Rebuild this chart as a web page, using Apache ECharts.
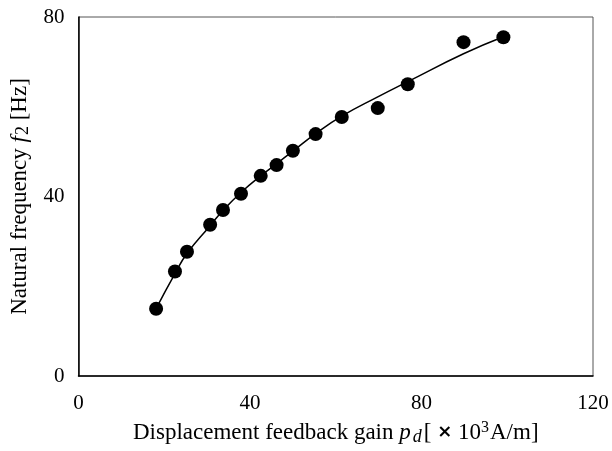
<!DOCTYPE html>
<html>
<head>
    <meta charset="utf-8">
    <script src="https://cdn.jsdelivr.net/npm/echarts@6/dist/echarts.min.js"></script>
    <style>
        html, body { margin: 0; padding: 0; background: #fff; }
        #chart { width: 612px; height: 451px; }
    </style>
</head>
<body>
<div id="chart"></div>
<script>
// measured points: gain p_d (x10^3 A/m), natural frequency f2 (Hz)
var gainVals = [18.1, 22.5, 25.3, 30.7, 33.7, 37.9, 42.5, 46.2, 50.0, 55.3, 61.4, 69.8, 76.8, 89.8, 99.1];
var freqVals = [15.0, 23.3, 27.7, 33.7, 37.0, 40.6, 44.6, 47.0, 50.2, 53.9, 57.7, 59.7, 65.0, 74.4, 75.5];
// trend line
var trendX = [18.1, 22.5, 25.3, 30.7, 33.7, 37.9, 42.5, 46.2, 50.0, 55.3, 61.4, 69.8, 76.8, 89.8, 99.1];
var trendY = [15.0, 22.8, 27.3, 33.5, 36.9, 40.9, 44.6, 47.3, 50.1, 54.0, 57.9, 62.2, 65.6, 71.8, 75.6];
// axis ticks
var xTicks = [0, 40, 80, 120];
var yTicks = [0, 40, 80];

var pts = [];
for (var i = 0; i < gainVals.length; i++) {
    pts.push([gainVals[i], freqVals[i]]);
}
var trend = [];
for (var j = 0; j < trendX.length; j++) {
    trend.push([trendX[j], trendY[j]]);
}

var serif = '"Liberation Serif", "DejaVu Serif", serif';
var chart = echarts.init(document.getElementById('chart'));
var option = {
    animation: false,
    grid: {
        left: 77,
        top: 17,
        right: 19,
        bottom: 74,
        show: true,
        borderColor: '#555',
        borderWidth: 1
    },
    xAxis: {
        type: 'value',
        min: xTicks[0],
        max: xTicks[xTicks.length - 1],
        interval: 40,
        name: '{a|Displacement feedback gain }{i|p}{s|d}{a|[ }{b|×}{a| 10}{p|3}{a|A/m]}',
        nameLocation: 'middle',
        nameGap: 43,
        nameTextStyle: {
            fontFamily: serif,
            color: '#000',
            rich: {
                a: { fontFamily: serif, fontSize: 23, color: '#000' },
                i: { fontFamily: serif, fontSize: 23, fontStyle: 'italic', color: '#000' },
                s: { fontFamily: serif, fontSize: 18, fontStyle: 'italic', color: '#000', padding: [9, 2, 0, 2] },
                b: { fontFamily: 'DejaVu Sans', fontSize: 18, fontWeight: 'bold', color: '#000' },
                p: { fontFamily: serif, fontSize: 16, color: '#000', padding: [0, 1, 9, 0] }
            }
        },
        axisLine: { lineStyle: { color: '#000', width: 1.5 } },
        axisTick: { show: false },
        splitLine: { show: false },
        axisLabel: {
            margin: 17,
            fontFamily: serif,
            fontSize: 21,
            color: '#000'
        }
    },
    yAxis: {
        type: 'value',
        min: yTicks[0],
        max: yTicks[yTicks.length - 1],
        interval: 40,
        name: '{a|Natural frequency }{i|f}{s|2}{a| [Hz]}',
        nameLocation: 'middle',
        nameGap: 46,
        nameTextStyle: {
            fontFamily: serif,
            color: '#000',
            rich: {
                a: { fontFamily: serif, fontSize: 23, color: '#000' },
                i: { fontFamily: serif, fontSize: 23, fontStyle: 'italic', color: '#000' },
                s: { fontFamily: serif, fontSize: 18, color: '#000', padding: [8, 0, 0, 1] }
            }
        },
        axisLine: { show: true, lineStyle: { color: '#000', width: 1.5 } },
        axisTick: { show: false },
        splitLine: { show: false },
        axisLabel: {
            margin: 14,
            fontFamily: serif,
            fontSize: 21,
            color: '#000'
        }
    },
    series: [{
        name: 'trend',
        type: 'line',
        smooth: true,
        showSymbol: false,
        lineStyle: { color: '#000', width: 1.5 },
        data: trend,
        z: 2
    }, {
        name: 'measured',
        type: 'scatter',
        symbol: 'circle',
        symbolSize: 14,
        itemStyle: { color: '#000', opacity: 1 },
        data: pts,
        z: 3
    }]
};
chart.setOption(option);
</script>
</body>
</html>
